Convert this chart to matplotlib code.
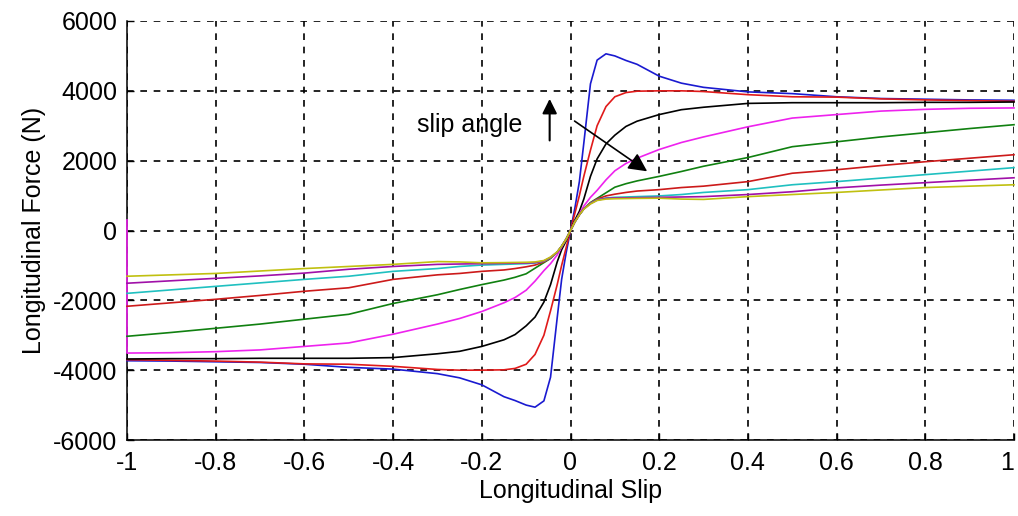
import numpy as np
import matplotlib
matplotlib.use("Agg")
import matplotlib.pyplot as plt

plt.rcParams['font.family'] = ['Liberation Sans', 'DejaVu Sans']
plt.rcParams['axes.unicode_minus'] = False

# slip values (positive half, curves are antisymmetric about the origin)
slip = [0, 0.01, 0.02, 0.03, 0.045, 0.06, 0.08, 0.1, 0.125, 0.15,
        0.2, 0.25, 0.3, 0.4, 0.5, 0.6, 0.7, 0.8, 0.9, 1.0]

# longitudinal force (N) for each slip angle curve
fx_blue = [0, 650, 1400, 2500, 4200, 4880, 5060, 5000, 4870, 4760,
           4420, 4220, 4100, 3970, 3920, 3830, 3780, 3760, 3740, 3730]
fx_red = [0, 500, 1000, 1550, 2300, 3000, 3550, 3830, 3950, 3990,
          4000, 4000, 3980, 3890, 3830, 3820, 3770, 3740, 3720, 3700]
fx_black = [0, 300, 550, 900, 1550, 2050, 2480, 2730, 2980, 3130,
            3320, 3460, 3530, 3640, 3660, 3660, 3660, 3670, 3670, 3680]
fx_magenta = [0, 250, 480, 700, 950, 1150, 1450, 1710, 1920, 2070,
              2320, 2520, 2680, 2970, 3220, 3320, 3420, 3470, 3500, 3510]
fx_green = [0, 250, 450, 620, 800, 920, 1080, 1240, 1340, 1420,
            1550, 1690, 1840, 2090, 2400, 2540, 2680, 2800, 2920, 3030]
fx_red2 = [0, 250, 450, 620, 790, 900, 990, 1040, 1090, 1130,
           1170, 1230, 1270, 1400, 1640, 1740, 1860, 1970, 2070, 2170]
fx_cyan = [0, 250, 450, 620, 780, 880, 930, 950, 960, 970,
           990, 1030, 1090, 1170, 1310, 1400, 1500, 1600, 1700, 1800]
fx_purple = [0, 250, 450, 620, 770, 870, 920, 930, 935, 940,
             950, 960, 970, 1030, 1110, 1220, 1300, 1370, 1440, 1510]
fx_yellow = [0, 250, 450, 610, 760, 860, 900, 910, 915, 920,
             925, 900, 890, 970, 1030, 1090, 1160, 1230, 1270, 1310]

# the magenta curve starts with a stray point at slip = -1
magenta_first = 300

curves = [
    (fx_blue, '#1a1ad0'),
    (fx_red, '#e01a1a'),
    (fx_black, '#000000'),
    (fx_magenta, '#ee22ee'),
    (fx_green, '#108010'),
    (fx_red2, '#cc1a1a'),
    (fx_cyan, '#20c0c0'),
    (fx_purple, '#a010a8'),
    (fx_yellow, '#c0c010'),
]

s = np.array(slip)
x_full = np.concatenate([-s[::-1], s[1:]])

fig = plt.figure(figsize=(10.18, 5.16), dpi=100)
ax = fig.add_axes([127 / 1018, 76 / 516, 887 / 1018, 419 / 516])

for fx, col in curves:
    f = np.array(fx, dtype=float)
    y_full = np.concatenate([-f[::-1], f[1:]])
    xs, ys = x_full, y_full
    if fx is fx_magenta:
        xs = np.concatenate([[-1.0], xs])
        ys = np.concatenate([[magenta_first], ys])
    ax.plot(xs, ys, color=col, linewidth=1.2, zorder=3, clip_on=False)

ax.set_xlim(-1, 1)
ax.set_ylim(-6000, 6000)
xticks = np.round(np.arange(-1, 1.01, 0.2), 1)
ax.set_xticks(xticks)
ax.set_xticklabels(['-1', '-0.8', '-0.6', '-0.4', '-0.2', '0',
                    '0.2', '0.4', '0.6', '0.8', '1'])
ax.set_yticks(np.arange(-6000, 6001, 2000))
ax.tick_params(direction='in', length=5, width=1, labelsize=18)
ax.tick_params(axis='y', pad=7)
ax.tick_params(axis='x', pad=8)
# keep the last x label inside the figure
ax.get_xticklabels()[-1].set_horizontalalignment('right')

ax.spines['top'].set_visible(False)
ax.spines['right'].set_visible(False)
ax.spines['left'].set_linewidth(1.1)
ax.spines['bottom'].set_linewidth(1.1)

ax.grid(True, color='black', linestyle=(0, (4, 4)), linewidth=1.2)
ax.set_axisbelow(True)

ax.set_xlabel('Longitudinal Slip', fontsize=18, labelpad=3)
ax.set_ylabel('Longitudinal Force (N)', fontsize=18, labelpad=5)

ax.text(-0.345, 3030, 'slip angle', fontsize=18, va='center', ha='left')
ax.annotate('', xy=(-0.047, 3850), xytext=(-0.047, 2500),
            arrowprops=dict(arrowstyle='-|>', color='black', lw=1.5,
                            mutation_scale=22))
ax.annotate('', xy=(0.178, 1650), xytext=(0.004, 3180),
            arrowprops=dict(arrowstyle='-|>', color='black', lw=1.2,
                            mutation_scale=28))

fig.savefig('out.png', dpi=100)
